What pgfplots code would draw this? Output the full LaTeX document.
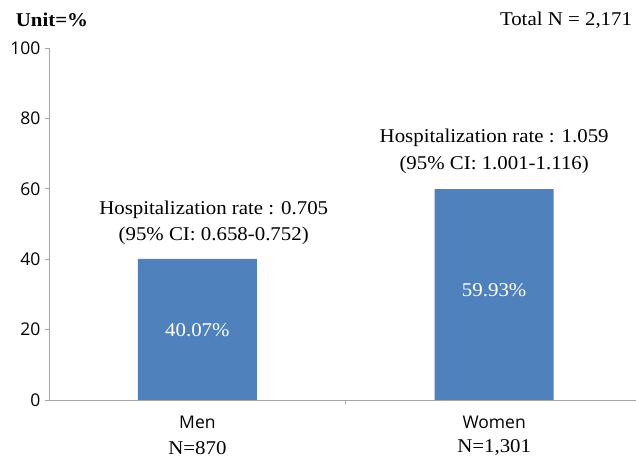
\documentclass[border=0pt]{standalone}
\usepackage{pgfplots}
\pgfplotsset{compat=1.18}
\usepackage{fontspec}
\setmainfont{Liberation Serif}[FakeStretch=1.07]
\newfontfamily\tickfont{Open Sans}
\definecolor{barblue}{HTML}{4F81BD}
\definecolor{axgray}{HTML}{A6A6A6}
\newcommand{\serifsz}{\fontsize{19.5bp}{23bp}\selectfont}
\newcommand{\sanssz}{\tickfont\fontsize{17.5bp}{20bp}\selectfont}
\begin{document}
\begin{tikzpicture}[x=1bp,y=1bp]
\useasboundingbox (-49,-62) rectangle (587,400);
\begin{axis}[
  at={(0,0)}, anchor=south west,
  scale only axis, width=587bp, height=352bp,
  xmin=-0.5, xmax=1.478, ymin=0, ymax=100,
  axis x line*=bottom, axis y line*=left,
  axis line style={axgray, line width=0.8bp, -},
  ytick={0,20,...,100},
  xtick={0.5}, xticklabels={},
  tick style={axgray, line width=0.8bp},
  major tick length=4bp, tick align=outside,
  yticklabel style={font=\sanssz, text=black, xshift=-1bp},
  /pgf/number format/assume math mode=true,
  clip=false,
]
\addplot[ybar, bar width=119bp, fill=barblue, draw=none] coordinates {(0,40.07) (1,59.93)};
\node[font=\serifsz, text=white] at (axis cs:0,19.9) {40.07\%};
\node[font=\serifsz, text=white] at (axis cs:1,31.2) {59.93\%};
\node[font=\serifsz] at (axis cs:0.055,54) {Hospitalization rate : 0.705};
\node[font=\serifsz] at (axis cs:0.055,46.6) {(95\% CI: 0.658-0.752)};
\node[font=\serifsz] at (axis cs:1.0,74.4) {Hospitalization rate : 1.059};
\node[font=\serifsz] at (axis cs:1.0,66.8) {(95\% CI: 1.001-1.116)};
\node[font=\sanssz] at (axis cs:0,0) [yshift=-22bp] {Men};
\node[font=\serifsz] at (axis cs:0,0) [yshift=-48bp] {N=870};
\node[font=\sanssz] at (axis cs:1,0) [yshift=-22bp] {Women};
\node[font=\serifsz] at (axis cs:1,0) [yshift=-48bp] {N=1,301};
\end{axis}
\node[font=\serifsz\bfseries] at (3,380) {Unit=\%};
\node[font=\serifsz] at (517,380) {Total N = 2,171};
\end{tikzpicture}
\end{document}
